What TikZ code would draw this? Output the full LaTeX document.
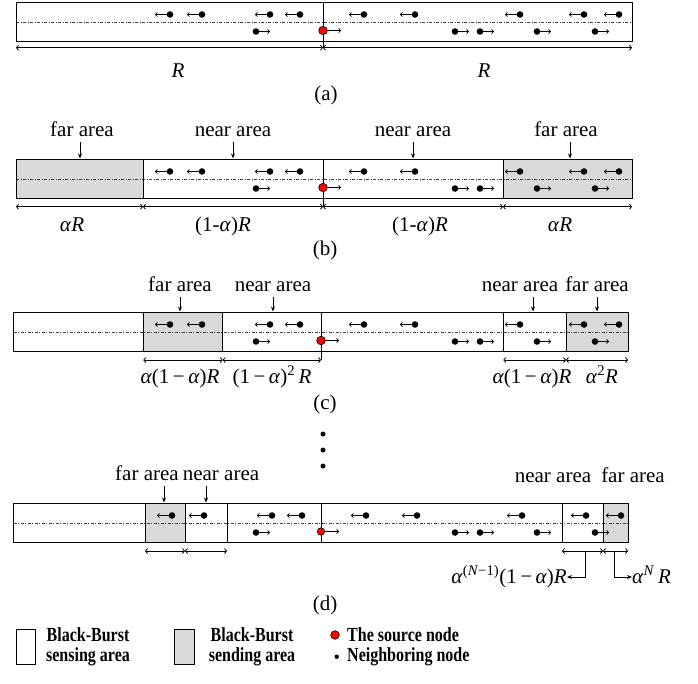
\documentclass[tikz,border=0pt]{standalone}
\usepackage{fontspec}
\setmainfont{Liberation Serif}
\newfontfamily\legendfont[FakeStretch=0.8]{Liberation Serif}
\usetikzlibrary{arrows.meta}

\definecolor{sendgray}{RGB}{217,217,217}
\newcommand\alp{\textit{α}}
\newcommand\Rr{\textit{R}}

% neighbour moving left: dot with an arrow to its left
\newcommand\nbL[2]{%
  \fill ({#1},{#2}) circle[radius=3.3];
  \draw[nbarrow] ({#1-3},{#2}) -- ({#1-15},{#2});}
% neighbour moving right: dot with an arrow to its right
\newcommand\nbR[2]{%
  \fill ({#1},{#2}) circle[radius=3.3];
  \draw[nbarrow] ({#1+3},{#2}) -- ({#1+14},{#2});}
% source vehicle: red dot moving right
\newcommand\srcnode[3]{%
  \draw[fill=red, line width=0.6pt] ({#1},{#2}) circle[radius=#3];
  \draw[nbarrow] ({#1+#3},{#2}) -- ({#1+18},{#2});}
% both lanes of traffic; #1 = top edge of the road, #2 = shift of the upper lane
\newcommand\lanenodes[2]{%
  \foreach \x in {170,202,270,300,364,415,520,584,619}{\nbL{\x+#2}{#1+12}}
  \foreach \x in {256,455,480,537,595}{\nbR{\x}{#1+29}}}

\begin{document}
\begin{tikzpicture}[x=1pt,y=-1pt,
  bar/.style={draw=black, line width=1pt},
  lanedash/.style={draw=black!75, line width=0.6pt, dash pattern=on 3pt off 1.5pt on 1pt off 1.5pt},
  dimline/.style={line width=0.8pt, {Straight Barb[length=2pt,width=5pt]}-{Straight Barb[length=2pt,width=5pt]}},
  pointer/.style={line width=0.8pt, -{Stealth[length=5pt,width=4pt]}},
  nbarrow/.style={line width=0.7pt, -{Straight Barb[length=2pt,width=4.5pt]}},
  lbl/.style={font=\fontsize{21}{23}\selectfont, anchor=base, inner sep=0pt},
  leg/.style={font=\legendfont\bfseries\fontsize{20}{22}\selectfont, anchor=base, inner sep=0pt},
]
\useasboundingbox (0,0) rectangle (698,683);

% ---------------- (a) ----------------
\draw[lanedash] (16,22) -- (632,22);
\draw[bar] (16,2.5) rectangle (632,41);
\draw[bar] (323,2.5) -- (323,47.7);
\draw[dimline] (16,47.7) -- (323,47.7);
\draw[dimline] (323,47.7) -- (632,47.7);
\lanenodes{2.5}{0}
\srcnode{323}{30.5}{4.3}
\node[lbl] (ra1) at (178,77.3) {\Rr};
\node[lbl] (ra2) at (484,77.3) {\Rr};
\node[lbl] (capa) at (326,100) {(a)};

% ---------------- (b) ----------------
\fill[sendgray] (16,159.5) rectangle (143,198);
\fill[sendgray] (503,159.5) rectangle (632,198);
\draw[lanedash] (16,179) -- (632,179);
\draw[bar] (16,159.5) rectangle (632,198);
\draw[bar] (143,159.5) -- (143,198);
\draw[bar] (503,159.5) -- (503,198);
\draw[bar] (323,159.5) -- (323,206.7);
\draw[dimline] (16,206.7) -- (143,206.7);
\draw[dimline] (143,206.7) -- (323,206.7);
\draw[dimline] (323,206.7) -- (503,206.7);
\draw[dimline] (503,206.7) -- (632,206.7);
\lanenodes{159.5}{0}
\srcnode{323}{187.5}{4.3}
\node[lbl] (fb1) at (82,136) {far area};
\node[lbl] (nb1) at (233,136) {near area};
\node[lbl] (nb2) at (413,136) {near area};
\node[lbl] (fb2) at (566,136) {far area};
\draw[pointer] (80,142) -- (80,158.5);
\draw[pointer] (233,142) -- (233,158.5);
\draw[pointer] (413,142) -- (413,158.5);
\draw[pointer] (570,142) -- (570,158.5);
\node[lbl] (db1) at (72,231) {\alp\Rr};
\node[lbl] (db2) at (223,231) {(1-\alp)\Rr};
\node[lbl] (db3) at (420,231) {(1-\alp)\Rr};
\node[lbl] (db4) at (560,231) {\alp\Rr};
\node[lbl] (capb) at (325,255.7) {(b)};

% ---------------- (c) ----------------
\fill[sendgray] (143.3,312.5) rectangle (222.7,351);
\fill[sendgray] (566,312.5) rectangle (628,351);
\draw[lanedash] (13.5,332) -- (628,332);
\draw[bar] (13.5,312.5) rectangle (628,351);
\foreach \v in {143.3,222.7,503.3,566}{\draw[bar] (\v,312.5) -- (\v,351);}
\draw[bar] (321,312.5) -- (321,360);
\draw[dimline] (143.3,360) -- (222.7,360);
\draw[dimline] (222.7,360) -- (321,360);
\draw[dimline] (503.3,360) -- (566,360);
\draw[dimline] (566,360) -- (628,360);
\lanenodes{312.5}{0}
\srcnode{321}{340.5}{4.3}
\node[lbl] (fc1) at (180,291.7) {far area};
\node[lbl] (nc1) at (273,291.7) {near area};
\node[lbl] (nc2) at (520,291.7) {near area};
\node[lbl] (fc2) at (597,291.7) {far area};
\draw[pointer] (180,297) -- (180,311.5);
\draw[pointer] (273,297) -- (273,311.5);
\draw[pointer] (533,297) -- (533,311.5);
\draw[pointer] (597,297) -- (597,311.5);
\node[lbl] (dc1) at (180,383) {\alp(1\,−\,\alp)\Rr};
\node[lbl] (dc2) at (272,383) {(1\,−\,\alp)\textsuperscript{2}\,\Rr};
\node[lbl] (dc3) at (532,383) {\alp(1\,−\,\alp)\Rr};
\node[lbl] (dc4) at (602,383) {\alp\textsuperscript{2}\Rr};
\node[lbl] (capc) at (325,409.3) {(c)};

% ---------------- vertical ellipsis ----------------
\foreach \yy in {434,450,466}{\fill (323,\yy) circle[radius=2.5];}

% ---------------- (d) ----------------
\fill[sendgray] (145,503.5) rectangle (185,542);
\fill[sendgray] (603,503.5) rectangle (628,542);
\draw[lanedash] (13.5,523) -- (628,523);
\draw[bar] (13.5,503.5) rectangle (628,542);
\foreach \v in {145,185,227,321,562,603}{\draw[bar] (\v,503.5) -- (\v,542);}
\draw[dimline] (145,551) -- (185,551);
\draw[dimline] (185,551) -- (227,551);
\draw[dimline] (562,551) -- (603,551);
\draw[dimline] (603,551) -- (628,551);
\lanenodes{503.5}{2}
\srcnode{321}{531.5}{3.7}
\node[lbl] (fd1) at (147,480.7) {far area};
\node[lbl] (nd1) at (221,480.7) {near area};
\node[lbl] (nd2) at (553,482) {near area};
\node[lbl] (fd2) at (633,482) {far area};
\draw[pointer] (164,486) -- (164,502.5);
\draw[pointer] (206,486) -- (206,502.5);
\node[lbl, anchor=base east] (dd1) at (567,583.3) {\alp\textsuperscript{(\textit{N}−1)}(1\,−\,\alp)\Rr};
\node[lbl, anchor=base west] (dd2) at (632,583.3) {\alp\textsuperscript{\textit{N}}\,\Rr};
\draw[pointer] (585,551) -- (585,577) -- (dd1.east |- 0,577);
\draw[pointer] (614,551) -- (614,577) -- (dd2.west |- 0,577);
\node[lbl] (capd) at (325,610) {(d)};

% ---------------- legend ----------------
\draw[line width=0.8pt] (16.7,629) rectangle (35,664.3);
\node[leg] (l1a) at (88,641.7) {Black-Burst};
\node[leg] (l1b) at (88,661.5) {sensing area};
\draw[line width=0.8pt, fill=sendgray] (174,629) rectangle (194.3,664.3);
\node[leg] (l2a) at (252,641.7) {Black-Burst};
\node[leg] (l2b) at (252,661.5) {sending area};
\draw[fill=red, line width=0.6pt] (335,635) circle[radius=4.3];
\node[leg, anchor=base west] (l3) at (347,641.7) {The source node};
\fill (336.7,656.7) circle[radius=2.2];
\node[leg, anchor=base west] (l4) at (347,661.5) {Neighboring node};
\end{tikzpicture}
\end{document}
